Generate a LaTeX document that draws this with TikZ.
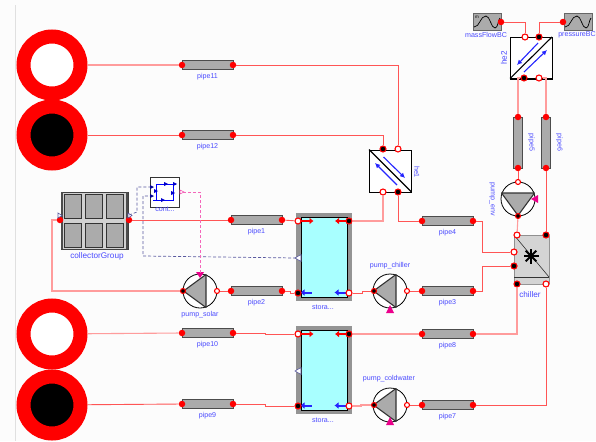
\documentclass[tikz,border=0pt]{standalone}
\usepackage{fontspec}
\setmainfont{Liberation Sans}
\usetikzlibrary{arrows.meta}
\definecolor{lblue}{HTML}{4A4AFF}
\definecolor{wirered}{HTML}{FF5555}
\definecolor{wirepink}{HTML}{FF9C9C}
\definecolor{pipegray}{HTML}{ABABAB}
\definecolor{siggray}{HTML}{5A5AA0}
\definecolor{tankcyan}{HTML}{A8FFFF}
\tikzset{
  wire/.style={draw=wirered,line width=0.9pt},
  wirep/.style={draw=wirepink,line width=1.1pt},
  redport/.style={circle,fill=red,draw=none,inner sep=0pt,minimum size=6.5pt},
  blackport/.style={circle,fill=black,draw=red,line width=1.1pt,inner sep=0pt,minimum size=6pt},
  whiteport/.style={circle,fill=white,draw=red,line width=1.1pt,inner sep=0pt,minimum size=6pt},
  lbl/.style={text=lblue,font=\fontsize{7.1}{8}\selectfont,inner sep=0pt},
  lblbig/.style={text=lblue,font=\fontsize{8.2}{9}\selectfont,inner sep=0pt},
  pipebody/.style={draw=black!70,fill=pipegray,line width=0.7pt,inner sep=0pt},
  bigring/.style={circle,draw=red,line width=14pt,inner sep=0pt,minimum size=57pt},
  pumpdisc/.style={circle,draw=black,fill=white,line width=0.8pt,inner sep=0pt,minimum size=34pt},
  pumptri/.style={fill=pipegray,draw=black!80,line width=1.1pt,line join=round},
  ctrltip/.style={fill=magenta,draw=none},
  sigblue/.style={draw=siggray,line width=0.7pt,densely dashed},
  sigmag/.style={draw=magenta!60,line width=0.7pt,densely dashed},
  flowblue/.style={draw=blue!85,line width=1.1pt,-{Latex[length=5pt,width=5pt]}},
  sigtri/.style={draw=siggray,fill=white,line width=0.6pt},
  tankarrow/.style={line width=2pt,-{Latex[length=4pt,width=7pt]}},
}
\newcommand{\pipeH}[3]{%
  \node[pipebody,minimum width=51pt,minimum height=8.5pt] (#1) at (#2,#3) {};
  \node[redport] (#1-a) at (#2-25.5,#3) {};
  \node[redport] (#1-b) at (#2+25.5,#3) {};
  \node[lbl] (#1-t) at (#2,#3+12) {#1};
}
\newcommand{\pipeV}[3]{%
  \node[pipebody,minimum width=8.5pt,minimum height=51pt] (#1) at (#2,#3) {};
  \node[redport] (#1-a) at (#2,#3-25.5) {};
  \node[redport] (#1-b) at (#2,#3+25.5) {};
  \node[lbl,rotate=-90] (#1-t) at (#2+13.5,#3) {#1};
}
\newcommand{\tank}[3]{% name, top y of gray, triangle y
  \fill[black!42] (296,#2) rectangle (352,#2+88);
  \node[draw=black,fill=tankcyan,line width=1.1pt,minimum width=46pt,minimum height=80pt,inner sep=0pt,anchor=north west] (#1) at (300.5,#2+4) {};
  \draw[tankarrow,red] (299,#2+8) -- (313.5,#2+8);
  \draw[tankarrow,red] (349,#2+8) -- (335,#2+8);
  \draw[line width=2pt,blue!85,{Latex[length=4pt,width=7pt]}-] (300.5,#2+79.5) -- (312,#2+79.5);
  \draw[tankarrow,blue!85] (349,#2+79.5) -- (334.5,#2+79.5);
  \node[whiteport] (#1-lt) at (298,#2+8) {};
  \node[blackport] (#1-rt) at (349,#2+8) {};
  \node[blackport] (#1-lb) at (298,#2+80) {};
  \node[whiteport] (#1-rb) at (349,#2+80) {};
  \coordinate (#1-s) at (296,#3);
  \draw[sigtri] (301,#3-3.5) -- (295,#3) -- (301,#3+3.5) -- cycle;
  \node[lbl] (#1-t) at (323,#2+94) {stora...};
}
\begin{document}
\begin{tikzpicture}[x=1pt,y=-1pt]
\useasboundingbox (0,0) rectangle (596,441);
\fill[white!99!black] (0,0) rectangle (596,441);
\fill[black!12] (15,5) rectangle (16,441);

% large reservoirs
\node[bigring,fill=white] (r1) at (52,65) {};
\node[bigring,fill=black] (r2) at (52,135) {};
\node[bigring,fill=white] (r3) at (52,334) {};
\node[bigring,fill=black] (r4) at (52,405) {};

% solar collectors
\node[draw=black!75,fill=black!18,line width=1.2pt,minimum width=67pt,minimum height=57pt,inner sep=0pt,anchor=north west] (coll) at (61,192) {};
\foreach \xx in {64,85,106}{
  \foreach \yy in {194,223}{
    \fill[pipegray,draw=black!80,line width=1pt] (\xx,\yy) rectangle (\xx+17,\yy+24);
  }
}
\fill[black!70] (61,192) rectangle (63,249);
\fill[black!70] (126,192) rectangle (128,249);
\node[redport] (coll-a) at (60,220) {};
\node[redport] (coll-b) at (129,220) {};
\coordinate (coll-s) at (129,215);
\draw[sigtri] (58,213) -- (62,215.5) -- (58,218) -- cycle;
\draw[sigtri] (128,213) -- (132,215.5) -- (128,218) -- cycle;
\node[lblbig] (coll-t) at (97,256) {collectorGroup};

% controller
\node[draw=black!80,fill=white,line width=1.1pt,minimum width=29pt,minimum height=30pt,inner sep=0pt,anchor=north west] (cont) at (150,177) {};
\draw[blue,line width=1pt] (156,184) -- (176,184) (173,184) -- (173,200) -- (153,200) (156,200) -- (156,184);
\foreach \ax/\ay in {166/184,175/184,173/193,163/200,156/191}{
  \fill[blue!80!black] (\ax-2,\ay-2) -- (\ax+2,\ay) -- (\ax-2,\ay+2) -- cycle;
}
\coordinate (cont-i1) at (150,187);
\coordinate (cont-i2) at (150,196);
\coordinate (cont-o) at (183,192);
\fill[blue!60!black] (150,185) -- (154,187) -- (150,189) -- cycle;
\fill[blue!60!black] (150,194) -- (154,196) -- (150,198) -- cycle;
\draw[magenta!70,fill=white,line width=0.6pt] (180,190) -- (184,192) -- (180,194) -- cycle;
\node[lbl] (cont-t) at (165,209.5) {cont...};

% pipes
\pipeH{pipe11}{207.5}{65}
\pipeH{pipe12}{207.5}{135}
\pipeH{pipe1}{256.5}{220}
\pipeH{pipe2}{256.5}{291}
\pipeH{pipe10}{207.5}{333}
\pipeH{pipe9}{207.5}{404}
\pipeH{pipe4}{447.5}{221}
\pipeH{pipe3}{447.5}{291}
\pipeH{pipe8}{447.5}{334}
\pipeH{pipe7}{447.5}{405}
\pipeV{pipe5}{518}{142.5}
\pipeV{pipe6}{546}{142.5}

% tanks
\tank{st1}{213}{258}
\tank{st2}{326}{371}

% pumps
\node[pumpdisc] (ps) at (200,291) {};
\draw[pumptri] (183.5,291) -- (206,274.5) -- (206,307.5) -- cycle;
\fill[ctrltip] (196,272) -- (204,272) -- (200,278) -- cycle;
\node[blackport,minimum size=5pt] (ps-i) at (183,291) {};
\node[whiteport,minimum size=5pt] (ps-o) at (217,291) {};
\coordinate (ps-c) at (200,273);
\node[lbl] (ps-t) at (200,315) {pump\_solar};

\node[pumpdisc] (pc) at (390,291) {};
\draw[pumptri] (373.5,291) -- (396,274.5) -- (396,307.5) -- cycle;
\fill[ctrltip] (386,313) -- (394,313) -- (390,305) -- cycle;
\node[blackport,minimum size=5pt] (pc-i) at (374,291) {};
\node[whiteport,minimum size=5pt] (pc-o) at (407,291) {};
\node[lbl] (pc-t) at (390,266) {pump\_chiller};

\node[pumpdisc] (pw) at (390,405) {};
\draw[pumptri] (373.5,405) -- (396,388.5) -- (396,421.5) -- cycle;
\fill[ctrltip] (386,425) -- (394,425) -- (390,417) -- cycle;
\node[blackport,minimum size=5pt] (pw-i) at (374,405) {};
\node[whiteport,minimum size=5pt] (pw-o) at (407,405) {};
\node[lbl] (pw-t) at (389,379) {pump\_coldwater};

\node[pumpdisc] (pe) at (518,199) {};
\draw[pumptri] (518,215.5) -- (501.5,193) -- (534.5,193) -- cycle;
\fill[ctrltip] (531,199) -- (538,195) -- (538,203) -- cycle;
\node[whiteport,minimum size=5pt] (pe-o) at (518,182) {};
\node[blackport,minimum size=5pt] (pe-i) at (518,216) {};
\node[lbl,rotate=-90] (pe-t) at (492,199) {pump\_env};

% heat exchangers
\node[draw=black,fill=white,line width=1.1pt,minimum width=42pt,minimum height=42pt,inner sep=0pt,anchor=north west] (he1) at (369,149.5) {};
\draw[black,line width=1.1pt] (369,149.5) -- (411,191.5);
\draw[flowblue] (383.5,157) -- (405,178);
\draw[flowblue] (397,185) -- (375,163);
\node[blackport] (he1-a) at (383,149) {};
\node[whiteport] (he1-b) at (398,149) {};
\node[whiteport] (he1-c) at (383,192) {};
\node[blackport] (he1-d) at (398,192) {};
\node[lbl,rotate=-90] (he1-t) at (417,172) {he1};

\node[draw=black,fill=white,line width=1.1pt,minimum width=42pt,minimum height=41.5pt,inner sep=0pt,anchor=north west] (he2) at (510,37) {};
\draw[black,line width=1.1pt] (510,78.5) -- (552,37);
\draw[flowblue] (538,43) -- (517,65);
\draw[flowblue] (524,72) -- (547,50);
\node[whiteport] (he2-a) at (525,37) {};
\node[blackport] (he2-b) at (539,37) {};
\node[blackport] (he2-c) at (524,78) {};
\node[whiteport] (he2-d) at (539,78) {};
\node[lblbig,rotate=90] (he2-t) at (504,58) {he2};

% boundary conditions
\node[draw=black!60,fill=pipegray,line width=0.8pt,minimum width=28pt,minimum height=17pt,inner sep=0pt,anchor=north west] (mf) at (472.5,13.5) {};
\draw[black,line width=0.7pt] (474,27) .. controls (480,27) and (480,16) .. (486,16) .. controls (490,16) and (491,28) .. (495,28) .. controls (498,28) and (498,20) .. (500,18);
\node[text=black,font=\fontsize{4.5}{5}\selectfont,inner sep=0pt] (mf-m) at (477,17) {m};
\node[redport] (mf-p) at (501,22) {};
\node[lbl] (mf-t) at (486,35) {massFlowBC};
\node[draw=black!60,fill=pipegray,line width=0.8pt,minimum width=28pt,minimum height=17pt,inner sep=0pt,anchor=north west] (pr) at (563.5,13.5) {};
\draw[black,line width=0.7pt] (565,27) .. controls (571,27) and (571,16) .. (577,16) .. controls (581,16) and (582,28) .. (586,28) .. controls (589,28) and (589,20) .. (591,18);
\node[redport] (pr-p) at (563,22) {};
\node[lbl] (pr-t) at (577,35) {pressureBC};

% chiller
\node[draw=black!60,fill=black!17,line width=0.7pt,rounded corners=1pt,minimum width=35pt,minimum height=49pt,inner sep=0pt,anchor=north west] (ch) at (514,235) {};
\draw[black!80,line width=0.6pt] (514,235) -- (549,277);
\draw[black!80,line width=0.8pt] (514,277.5) -- (549,277.5);
\foreach \ang in {0,45,90,135}{
  \draw[black,line width=2pt] (531,256) ++(\ang:7.5) -- ++(\ang+180:15);
}
\node[whiteport] (ch-a) at (517,235) {};
\node[blackport] (ch-b) at (546,235) {};
\node[blackport] (ch-c) at (517,284) {};
\node[whiteport] (ch-d) at (546,284) {};
\node[whiteport] (ch-e) at (514,252) {};
\node[blackport] (ch-f) at (514,266) {};
\node[lblbig] (ch-t) at (530,295) {chiller};

% connectors
\draw[wirep] (r1) -- (pipe11-a);
\draw[wire] (r2) -- (pipe12-a);
\draw[wirep] (r3) -- (pipe10-a);
\draw[wire] (r4) -- (pipe9-a);
\draw[wire] (pipe11-b) -| (he1-b);
\draw[wire] (pipe12-b) -| (he1-a);
\draw[wirep] (he1-c) |- (st1-rt);
\draw[wire] (he1-d) |- (pipe4-a);
\draw[wire] (pipe4-b) -- ++(9,0) |- (ch-e);
\draw[wire] (ch-f) -- ++(-32,0) |- (pipe3-b);
\draw[wire] (pipe3-a) -- (pc-o);
\draw[wire] (pc-i) -- ++(-12,0) |- (st1-rb);
\draw[wire] (st1-lb) -- ++(-8,0) |- (pipe2-b);
\draw[wire] (pipe2-a) -- (ps-o);
\draw[wirep] (ps-i) -| (52,220) -- (coll-a);
\draw[wire] (coll-b) -- (pipe1-a);
\draw[wire] (pipe1-b) -- (st1-lt);
\draw[wire] (pipe10-b) -- ++(32,0) |- (st2-lt);
\draw[wire] (pipe9-b) -- ++(32,0) |- (st2-lb);
\draw[wirep] (st2-rt) -- (pipe8-a);
\draw[wirep] (pipe8-b) -| (ch-c);
\draw[wirep] (st2-rb) -- ++(12,0) |- (pw-i);
\draw[wire] (pw-o) -- (pipe7-a);
\draw[wire] (pipe7-b) -| (ch-d);
\draw[wirep] (pipe5-a) -- (518,78) -- (he2-c);
\draw[wirep] (pipe6-a) -- (546,78) -- (he2-d);
\draw[wire] (pipe5-b) -- (pe-o);
\draw[wirep] (pe-i) -- (ch-a);
\draw[wire] (pipe6-b) -- (546,232) -- (ch-b);
\draw[wire] (mf-p) -| (he2-a);
\draw[wire] (pr-p) -| (he2-b);
\draw[sigblue] (coll-s) -- (137,212) |- (cont-i1);
\draw[sigblue] (st1-s) -- (143,256) |- (cont-i2);
\draw[sigmag] (cont-o) -| (ps-c);
\end{tikzpicture}
\end{document}
